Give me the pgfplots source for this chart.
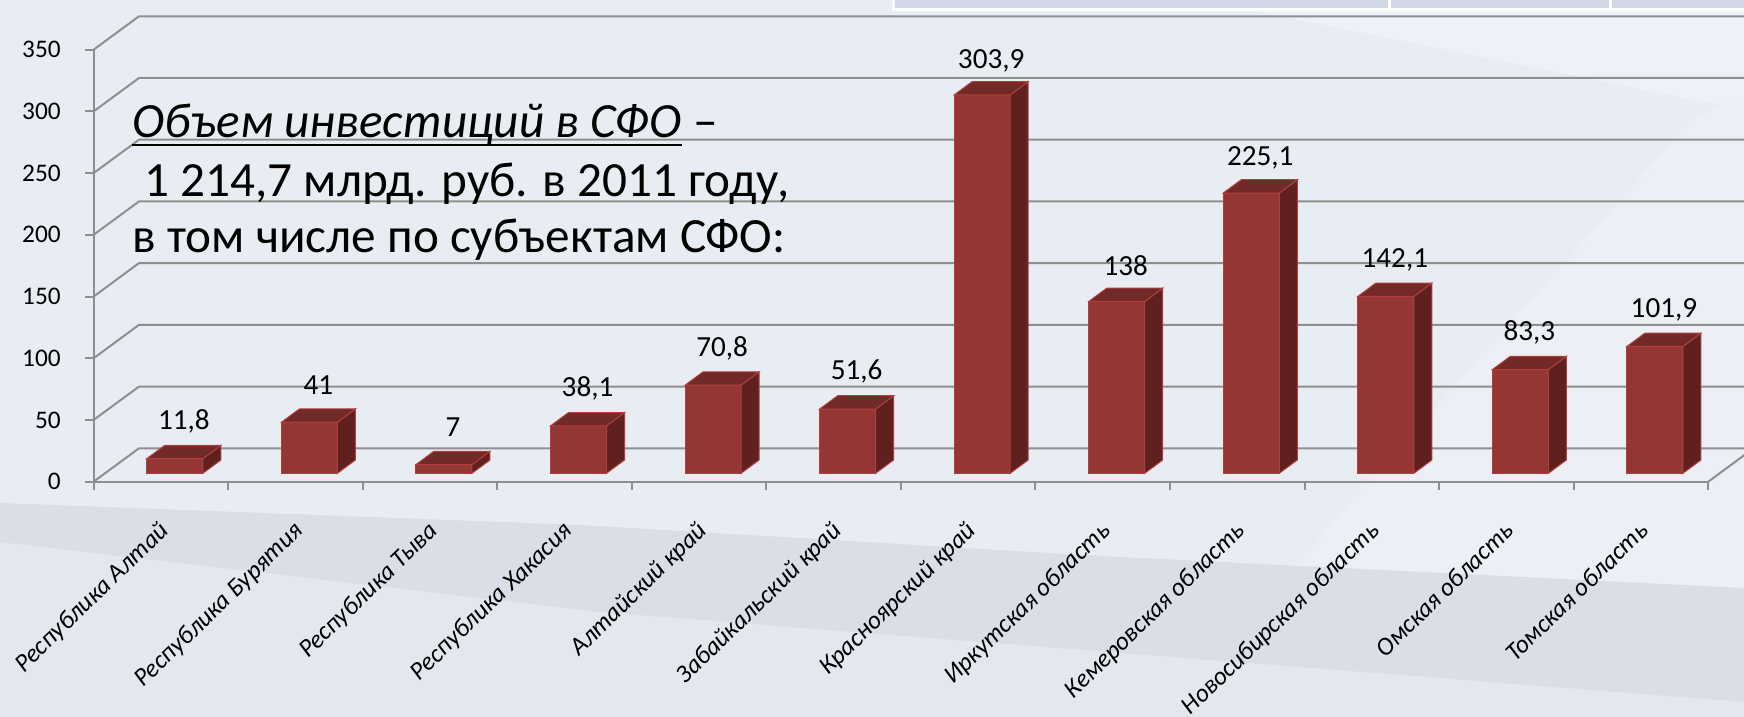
\documentclass[border=0pt]{standalone}
\usepackage{fontspec}
\setmainfont{Carlito}
\usepackage{pgfplots}
\pgfplotsset{compat=1.18}

\definecolor{bgbase}{HTML}{E8ECF3}
\definecolor{bglightA}{HTML}{EEF1F7}
\definecolor{bglightB}{HTML}{ECEFF5}
\definecolor{bgdark}{HTML}{D9DEE7}
\definecolor{bgmid}{HTML}{E3E7EE}
\definecolor{stripc}{HTML}{D0D8E6}
\definecolor{barfront}{HTML}{943634}
\definecolor{bartop}{HTML}{722A29}
\definecolor{barside}{HTML}{5F2120}
\definecolor{baredge}{HTML}{B03E3C}
\definecolor{gridc}{HTML}{8F8F8F}

% 3D column drawn at each data point (the point sits on the front plane)
\pgfdeclareplotmark{bar3d}{%
  \pgfmathsetmacro\yb{0.84-\rawy*0.12343}%
  \pgfmathsetmacro\yt{\yb+\rawy*0.1245}%
  \pgfmathsetmacro\ybd{\yb+1.33}%
  \pgfmathsetmacro\ytd{\yt+1.33}%
  \pgfsetlinewidth{0.1mm}%
  \pgfsetstrokecolor{baredge}%
  \pgfsetfillcolor{barfront}%
  \pgfpathrectanglecorners{\pgfpoint{-1.4mm}{\yb mm}}{\pgfpoint{4.2mm}{\yt mm}}%
  \pgfusepath{fill,stroke}%
  \pgfsetfillcolor{barside}%
  \pgfpathmoveto{\pgfpoint{4.2mm}{\yb mm}}%
  \pgfpathlineto{\pgfpoint{6.0mm}{\ybd mm}}%
  \pgfpathlineto{\pgfpoint{6.0mm}{\ytd mm}}%
  \pgfpathlineto{\pgfpoint{4.2mm}{\yt mm}}%
  \pgfpathclose
  \pgfusepath{fill,stroke}%
  \pgfsetfillcolor{bartop}%
  \pgfpathmoveto{\pgfpoint{-1.4mm}{\yt mm}}%
  \pgfpathlineto{\pgfpoint{4.2mm}{\yt mm}}%
  \pgfpathlineto{\pgfpoint{6.0mm}{\ytd mm}}%
  \pgfpathlineto{\pgfpoint{0.4mm}{\ytd mm}}%
  \pgfpathclose
  \pgfusepath{fill,stroke}%
}

\begin{document}
\begin{tikzpicture}
\useasboundingbox (0,0) rectangle (174.4mm,71.7mm);
\clip (0,0) rectangle (174.4mm,71.7mm);
% background
\fill[bgbase] (0,0) rectangle (174.4mm,71.7mm);
\fill[bglightA] (120mm,71.7mm) -- (174.4mm,71.7mm) -- (174.4mm,60.7mm) -- cycle;
\fill[bglightB] (169.4mm,60mm) -- (174.4mm,62mm) -- (174.4mm,0) -- (116mm,0) -- cycle;
\fill[bgdark] (0,21.4mm) -- (58mm,19.2mm) -- (110mm,16.1mm) -- (174.4mm,12.9mm) -- (174.4mm,0) -- (0,0) -- cycle;
\fill[bgmid] (0,17.5mm) -- (60mm,10.5mm) -- (174.4mm,1.5mm) -- (174.4mm,0) -- (0,0) -- cycle;
% strip of a table at the top
\fill[white] (89.2mm,70.6mm) rectangle (174.4mm,71.7mm);
\fill[stripc] (89.5mm,70.9mm) rectangle (174.4mm,71.7mm);
\fill[white] (138.8mm,70.6mm) rectangle (139.1mm,71.7mm);
\fill[white] (160.9mm,70.6mm) rectangle (161.2mm,71.7mm);

\begin{axis}[
    at={(9.36mm,23.53mm)}, anchor=south west,
    scale only axis,
    width=161.46mm, height=43.2mm,
    xmin=0, xmax=12, ymin=0, ymax=350,
    clip=false,
    /pgf/number format/assume math mode=true,
    axis lines*=left,
    axis line style={gridc, line width=0.2mm},
    tick style={gridc, line width=0.2mm},
    tick align=outside,
    major tick length=0.85mm,
    ytick={0,50,...,350},
    yticklabel style={font=\fontsize{7.2}{8}\selectfont, xshift=-1.2mm},
    xtick={0,...,12},
    x tick label as interval,
    xticklabels={Республика Алтай, Республика Бурятия, Республика Тыва,
        Республика Хакасия, Алтайский край, Забайкальский край,
        Красноярский край, Иркутская область, Кемеровская область,
        Новосибирская область, Омская область, Томская область},
    xticklabel style={font=\fontsize{7.2}{9}\selectfont\itshape, xshift=-0.3mm,
        rotate=44, anchor=north east, inner sep=0pt},
    xticklabel shift=2.9mm,
]
% side wall and back wall lines
\pgfplotsinvokeforeach{0,50,...,350}{
  \draw[gridc, line width=0.2mm] (axis cs:0,#1) -- ++(4.54mm,3.34mm) -- ++(170mm,0);
}
\draw[gridc, line width=0.2mm] (axis cs:12,0) -- ++(4.54mm,3.34mm);

\addplot[only marks, mark=bar3d,
    visualization depends on={rawy \as \rawy},
    nodes near coords={\pgfmathprintnumber[use comma]{\rawy}},
    every node near coord/.append style={font=\fontsize{8.3}{9}\selectfont,
        text=black, anchor=center, xshift=2.3mm, yshift=4.6mm},
] coordinates {
    (0.5,11.8) (1.5,41) (2.5,7) (3.5,38.1) (4.5,70.8) (5.5,51.6)
    (6.5,303.9) (7.5,138) (8.5,225.1) (9.5,142.1) (10.5,83.3) (11.5,101.9)
};
\end{axis}

% caption text over the chart
\node (t1) [anchor=base west, inner sep=0pt, font=\fontsize{14}{16}\selectfont]
  at (13.2mm,57.9mm) {\textit{Объем инвестиций в СФО}};
\node[anchor=base west, inner sep=0pt, font=\fontsize{14}{16}\selectfont]
  at (t1.base east) {\ –};
\fill[black] ([yshift=-0.65mm]t1.base west) rectangle ([yshift=-0.85mm]t1.base east);
\node[anchor=base west, inner sep=0pt, font=\fontsize{14}{16}\selectfont]
  at (14.4mm,52.0mm) {1 214,7 млрд. руб. в 2011 году,};
\node[anchor=base west, inner sep=0pt, font=\fontsize{14}{16}\selectfont]
  at (13.2mm,46.4mm) {в том числе по субъектам СФО:};
\end{tikzpicture}
\end{document}
